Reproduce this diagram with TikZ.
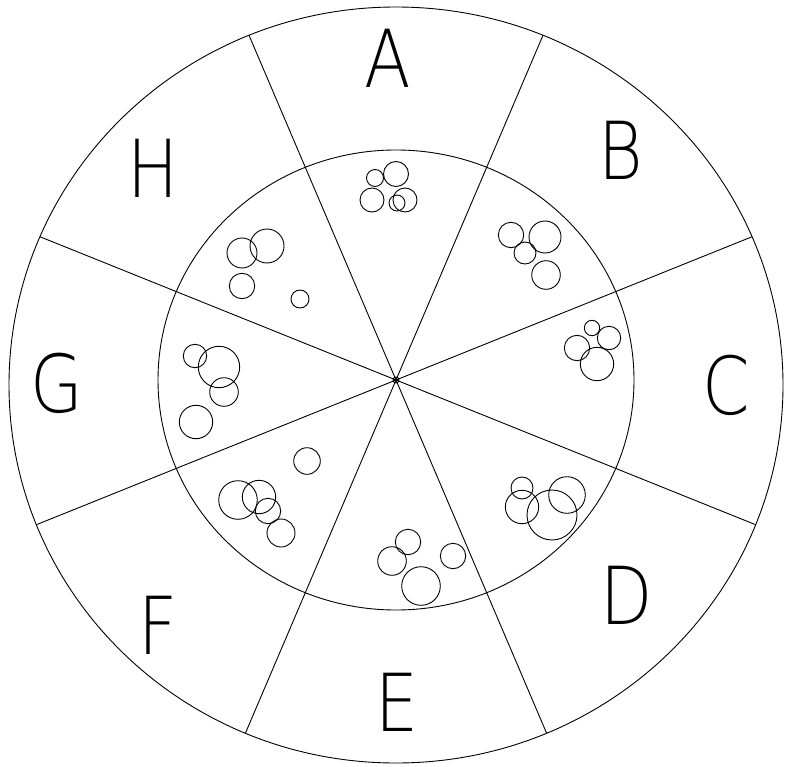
\documentclass[tikz,border=0pt]{standalone}
\usepackage{fontspec}
\newfontfamily\letterfont{DejaVu Sans ExtraLight}
\begin{document}
\begin{tikzpicture}[x=1pt,y=-1pt,line width=0.9pt,
  sector/.style={font=\letterfont\fontsize{80}{80}\selectfont,inner sep=0pt,xscale=0.85},
  bubble/.style={draw}]
  \useasboundingbox (0,0) rectangle (786,767);
  \coordinate (O) at (396,380);
  \coordinate (Oouter) at (396,385);
  % rings
  \draw (Oouter) ellipse[x radius=387,y radius=378];
  \draw (O) ellipse[x radius=238,y radius=230];
  % spokes
  \begin{scope}
    \clip (Oouter) ellipse[x radius=387,y radius=378];
    \foreach \a in {22.5,67.5,...,337.5}
      \draw (O) -- ++({420*cos(\a)},{408*sin(\a)});
  \end{scope}
  \draw (O) circle[radius=3];
  % sector letters
  \node[sector] (A) at (388,58) {A};
  \node[sector] (B) at (621,150) {B};
  \node[sector] (C) at (726,385) {C};
  \node[sector] (D) at (627,595) {D};
  \node[sector] (E) at (397,702) {E};
  \node[sector] (F) at (158,625) {F};
  \node[sector] (G) at (57,383) {G};
  \node[sector] (H) at (153,168) {H};
  % bubbles
  \foreach \x/\y/\r in {375/178/8.5, 396/174/12.5, 372/200/12, 405/200/12, 397/203/8,
      242/253/15, 267/246/17, 242/286/12.7, 300/299/9,
      511/235/12.7, 545/237/16, 525/253/11, 546/275/14.3,
      592/328/7.7, 609/338/11.7, 577/348/12.7, 597/364/16.7,
      195/356/11.7, 219/367/20.7, 224/392/14.3, 196/422/16.7,
      307/461/13.3, 238/500/19.3, 259/497/16.7, 268/511/12.7, 281/533/14,
      408/542/12.7, 392/561/14.3, 453/556/12.7, 421/586/19.3,
      522/488/11, 522/507/16.7, 567/495/18.3, 552/515/25}
    \draw[bubble] (\x,\y) circle[radius=\r];
\end{tikzpicture}
\end{document}
